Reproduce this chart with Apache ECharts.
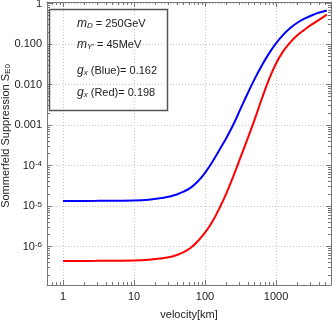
<!DOCTYPE html>
<html>
<head>
<meta charset="utf-8">
<script src="https://cdn.jsdelivr.net/npm/echarts@6/dist/echarts.min.js"></script>
<style>html,body{margin:0;padding:0;background:#fff;}#c{width:332px;height:320px;}</style>
</head>
<body>
<div id="c"></div>
<script>
// velocities (km) and Sommerfeld suppression
var velocity = [1, 3, 10, 16, 25, 32, 40, 50, 63, 79, 100, 126, 158, 200, 251, 316, 398, 501, 631, 794, 1000, 1259, 1585, 1995, 2512, 3162, 3981, 5200];
var blueS = [1.33e-5, 1.34e-5, 1.37e-5, 1.43e-5, 1.58e-5, 1.72e-5, 1.93e-5, 2.26e-5, 2.85e-5, 4.03e-5, 6.6e-5, 1.2e-4, 2.35e-4, 4.8e-4, 1.03e-3, 2.5e-3, 6.0e-3, 0.0138, 0.0295, 0.058, 0.104, 0.168, 0.248, 0.335, 0.422, 0.507, 0.59, 0.67];
var redS = [4.39e-7, 4.42e-7, 4.51e-7, 4.68e-7, 5.13e-7, 5.50e-7, 6.17e-7, 7.24e-7, 9.33e-7, 1.35e-6, 2.19e-6, 4.0e-6, 8.5e-6, 2.05e-5, 5.5e-5, 1.58e-4, 4.6e-4, 1.38e-3, 4.45e-3, 0.0132, 0.0331, 0.066, 0.110, 0.165, 0.224, 0.30, 0.39, 0.53];
var xMajor = [1, 10, 100, 1000];
var xMajorLabels = ['1', '10', '100', '1000'];
var yMajor = [1, 0.1, 0.01, 0.001, 1e-4, 1e-5, 1e-6];
var yMajorLabels = ['1', '0.100', '0.010', '0.001', '10{s|-4}', '10{s|-5}', '10{s|-6}'];
var yTitle = 'Sommerfeld Suppression {i|S}{sub|E0}';
var legendLines = [
  '{i|m}{sub|D} {n|= 250GeV}',
  '{i|m}{sub|Y\'} {n|= 45MeV}',
  '{i|g}{sub|x} {n|(Blue)= 0.162}',
  '{i|g}{sub|x} {n|(Red)= 0.198}'
];

var X_MIN = 0.595, X_MAX = 5950, Y_MIN = 1.12e-7, Y_MAX = 1.09;

function minorLogVals(lo, hi) {
  var out = [];
  for (var d = lo; d < hi; d *= 10) {
    for (var k = 2; k <= 9; k++) out.push(Math.log10(k * d));
  }
  return out;
}
var xMinor = minorLogVals(0.1, 10000);
var yMinor = minorLogVals(1e-8, 10);

var FONT = 'Liberation Sans, Arial, sans-serif';
var labCol = '#222';
var frameCol = '#777';

function yLabel(v) {
  for (var i = 0; i < yMajor.length; i++) {
    if (Math.abs(Math.log10(v) - Math.log10(yMajor[i])) < 1e-6) return yMajorLabels[i];
  }
  return '';
}
function xLabel(v) {
  for (var i = 0; i < xMajor.length; i++) {
    if (Math.abs(Math.log10(v) - Math.log10(xMajor[i])) < 1e-6) return xMajorLabels[i];
  }
  return '';
}

function baseAxis(extra) {
  var a = {
    type: 'log', logBase: 10,
    axisLine: { show: true, onZero: false, lineStyle: { color: frameCol, width: 1 } },
    axisTick: { show: true, inside: true, length: 5, lineStyle: { color: frameCol } },
    axisLabel: { show: false },
    splitLine: { show: false },
    minorTick: { show: false },
    minorSplitLine: { show: false }
  };
  for (var k in extra) a[k] = extra[k];
  return a;
}
function minorAxis(lo, hi, pos, vals, gi) {
  return {
    type: 'value', min: lo, max: hi, position: pos, gridIndex: gi,
    axisLine: { show: false, onZero: false },
    axisTick: { show: true, inside: true, length: 3, customValues: vals, lineStyle: { color: frameCol } },
    axisLabel: { show: false },
    splitLine: { show: false }
  };
}

var gridBox = { left: 47, right: 1, top: 2, bottom: 35, containLabel: false, outerBoundsMode: 'none' };
var grids = [0, 1, 2, 3].map(function () { return Object.assign({}, gridBox); });

var xAxes = [
  baseAxis({
    gridIndex: 0, min: X_MIN, max: X_MAX, position: 'bottom',
    axisLabel: { show: true, color: labCol, fontSize: 11, fontFamily: FONT, margin: 6, formatter: xLabel },
    splitLine: { show: true, lineStyle: { color: '#c8c8c8', type: [1, 2], width: 1 } },
    name: 'velocity[km]', nameLocation: 'middle', nameGap: 24,
    nameTextStyle: { color: labCol, fontSize: 11, fontFamily: FONT }
  }),
  baseAxis({ gridIndex: 1, min: X_MIN, max: X_MAX, position: 'top' }),
  minorAxis(Math.log10(X_MIN), Math.log10(X_MAX), 'bottom', xMinor, 2),
  minorAxis(Math.log10(X_MIN), Math.log10(X_MAX), 'top', xMinor, 3)
];
var yAxes = [
  baseAxis({
    gridIndex: 0, min: Y_MIN, max: Y_MAX, position: 'left',
    axisLabel: { show: true, color: labCol, fontSize: 11, fontFamily: FONT, margin: 5, formatter: yLabel,
      rich: { s: { fontSize: 8, verticalAlign: 'top', lineHeight: 9, color: labCol, fontFamily: FONT } } },
    splitLine: { show: true, lineStyle: { color: '#c8c8c8', type: [1, 2], width: 1 } }
  }),
  baseAxis({ gridIndex: 1, min: Y_MIN, max: Y_MAX, position: 'right' }),
  minorAxis(Math.log10(Y_MIN), Math.log10(Y_MAX), 'left', yMinor, 2),
  minorAxis(Math.log10(Y_MIN), Math.log10(Y_MAX), 'right', yMinor, 3)
];

function zip(a, b) { return a.map(function (v, i) { return [v, b[i]]; }); }

var richLegend = {
  i: { fontStyle: 'italic', fontSize: 12, fontFamily: FONT, color: '#222' },
  sub: { fontStyle: 'italic', fontSize: 8, fontFamily: FONT, color: '#222', verticalAlign: 'bottom', lineHeight: 8 },
  n: { fontSize: 11, fontFamily: FONT, color: '#222' }
};
var legendY = [24, 45, 71, 93];
var graphics = [{
  type: 'rect', left: 47, top: 7, z: 100,
  shape: { width: 118, height: 101 },
  style: { fill: 'none', stroke: '#555', lineWidth: 1.5 }
}, {
  type: 'text', x: 6, y: 136, rotation: Math.PI / 2, z: 100,
  style: {
    text: yTitle, font: '11px ' + FONT, fill: labCol, align: 'center', verticalAlign: 'middle',
    rich: {
      i: { fontSize: 11, fontFamily: FONT, fill: labCol },
      sub: { fontSize: 8, fontFamily: FONT, fill: labCol, verticalAlign: 'bottom', lineHeight: 8 }
    }
  }
}];
legendLines.forEach(function (t, i) {
  graphics.push({
    type: 'text', left: 77, top: legendY[i] - 6, z: 100,
    style: { text: t, rich: richLegend, font: '11px ' + FONT, fill: '#222' }
  });
});

var chart = echarts.init(document.getElementById('c'), null, { renderer: 'canvas' });
chart.setOption({
  animation: false,
  backgroundColor: '#fff',
  grid: grids,
  xAxis: xAxes,
  yAxis: yAxes,
  graphic: graphics,
  series: [
    { type: 'line', data: zip(velocity, blueS), xAxisIndex: 0, yAxisIndex: 0, showSymbol: false, smooth: 0.4,
      lineStyle: { color: '#0000ff', width: 2 }, itemStyle: { color: '#0000ff' } },
    { type: 'line', data: zip(velocity, redS), xAxisIndex: 0, yAxisIndex: 0, showSymbol: false, smooth: 0.4,
      lineStyle: { color: '#ff0000', width: 2 }, itemStyle: { color: '#ff0000' } }
  ]
});
</script>
</body>
</html>
